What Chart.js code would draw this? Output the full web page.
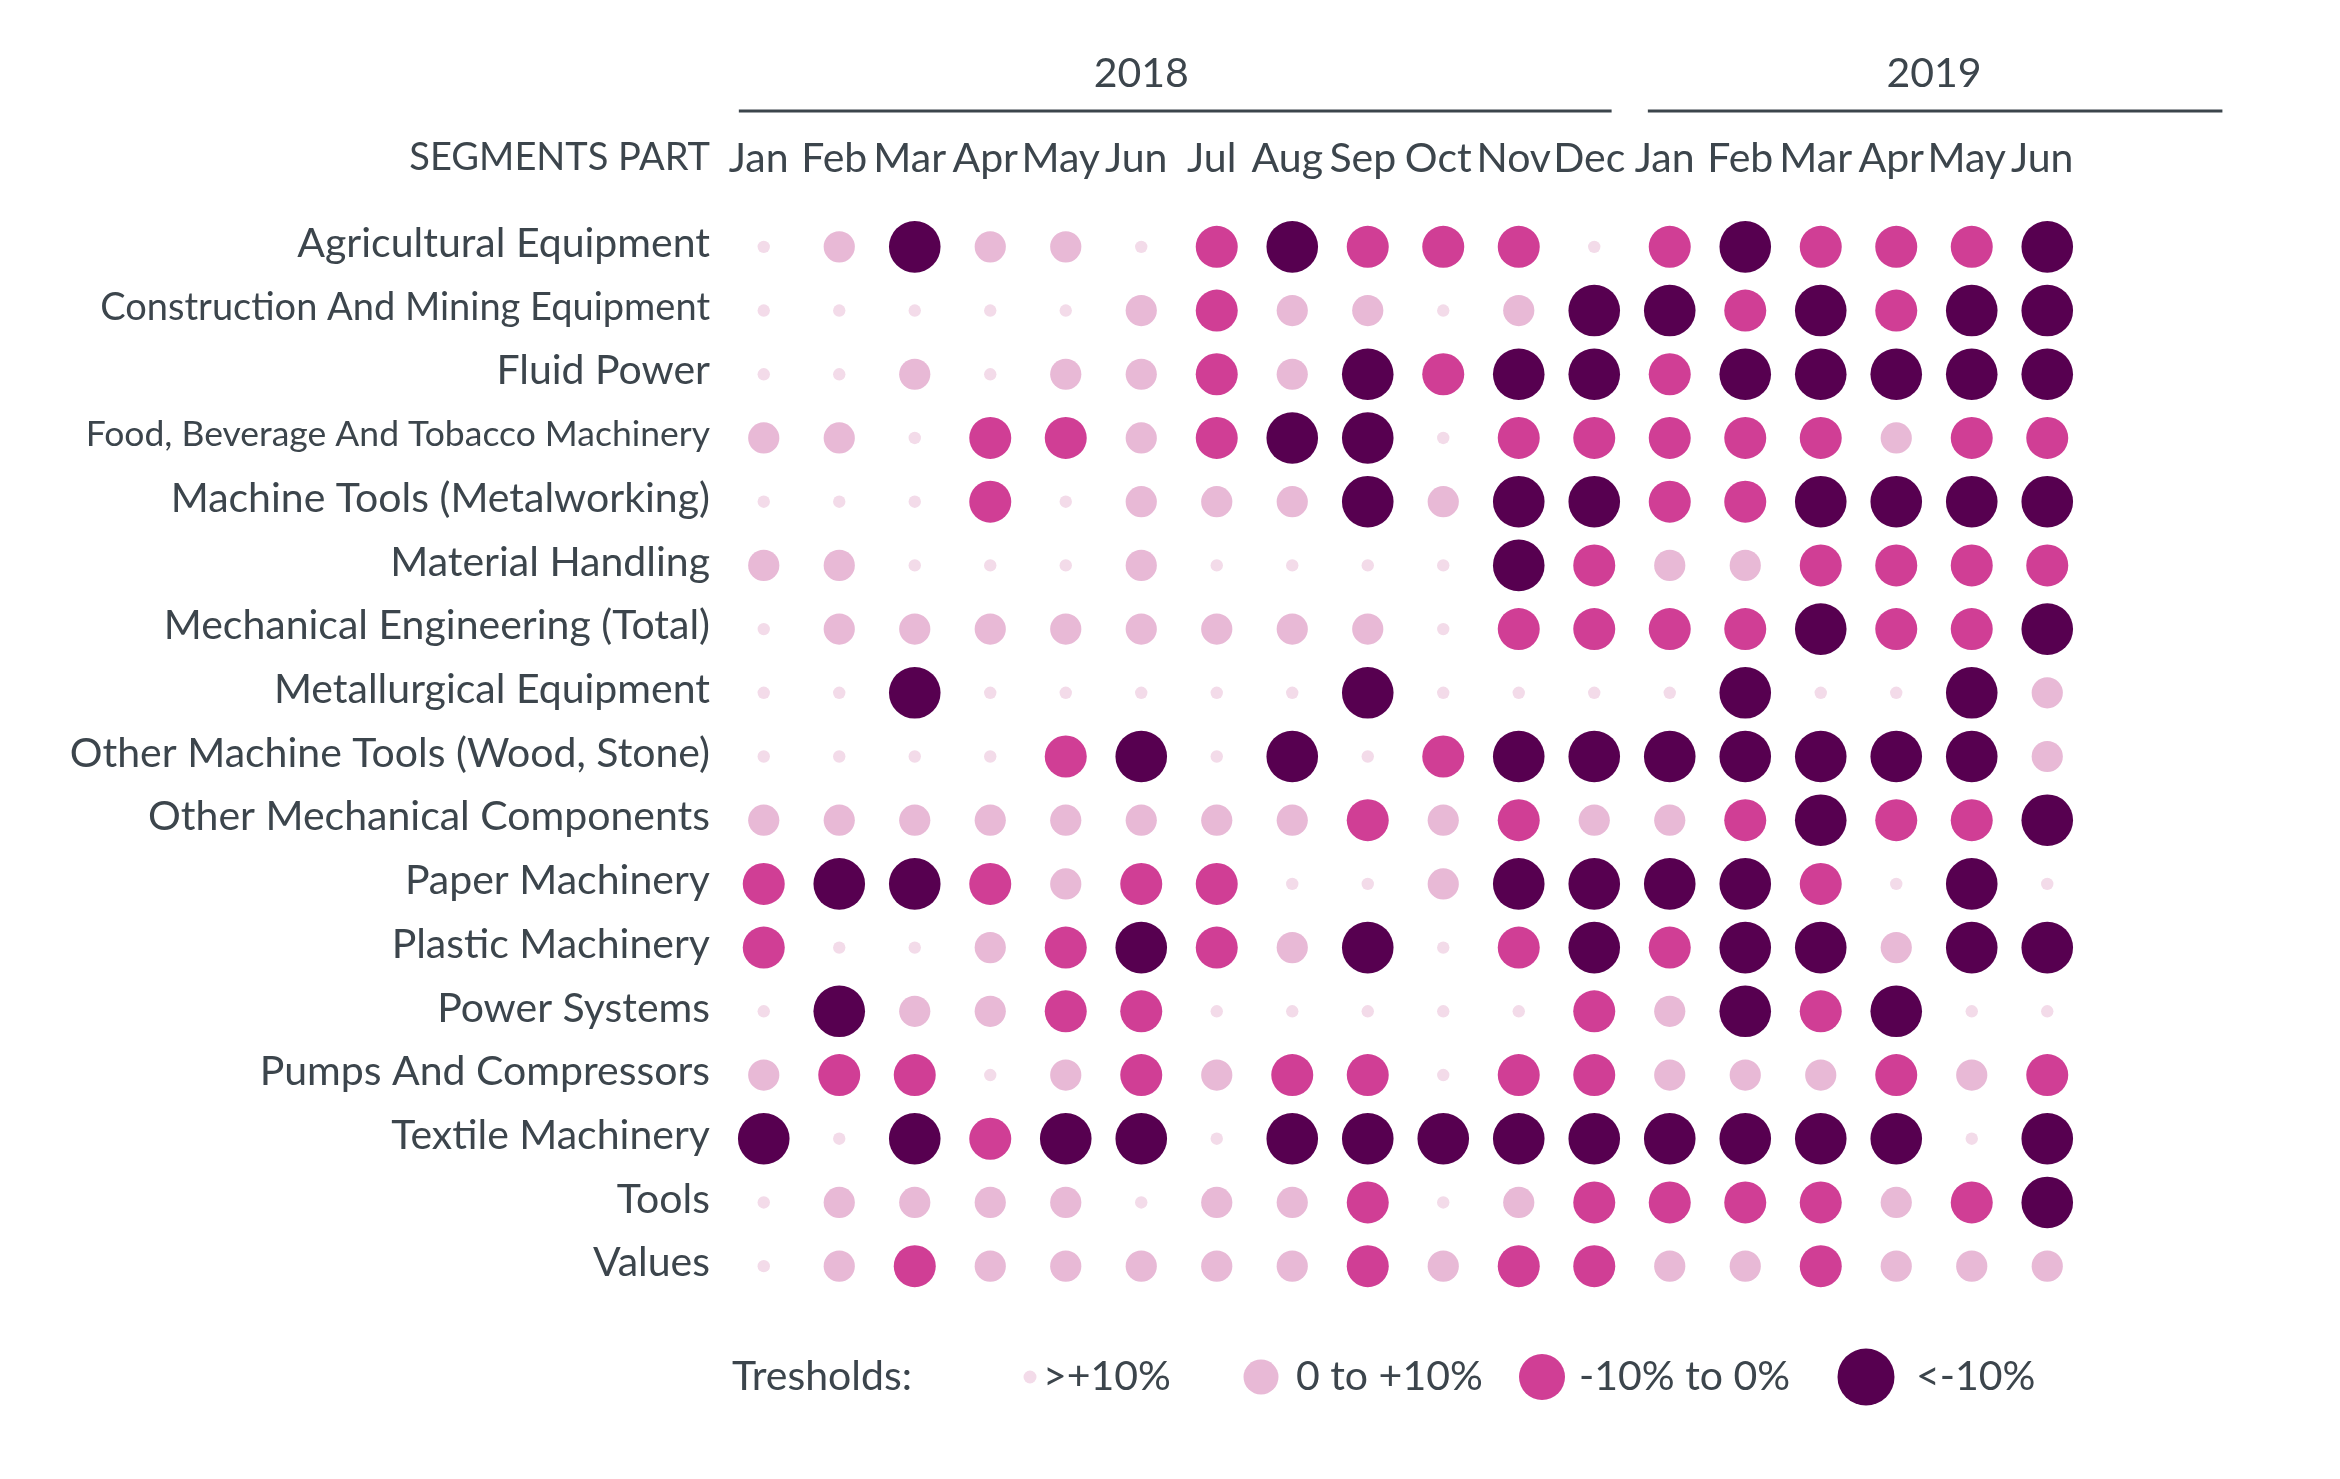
<!DOCTYPE html>
<html>
<head>
<meta charset="utf-8">
<title>Segments part thresholds</title>
<script src="https://cdn.jsdelivr.net/npm/chart.js@4.4.1/dist/chart.umd.min.js"></script>
<style>
  html, body { margin: 0; padding: 0; background: #ffffff; }
  #wrap { width: 2340px; height: 1479px; position: relative; }
</style>
</head>
<body>
<div id="wrap"><canvas id="chart"></canvas></div>
<script>
// ---------- DATA ----------
const periods = ['2018-01','2018-02','2018-03','2018-04','2018-05','2018-06','2018-07','2018-08','2018-09','2018-10','2018-11','2018-12',
                 '2019-01','2019-02','2019-03','2019-04','2019-05','2019-06'];
const monthTicks = ['Jan','Feb','Mar','Apr','May','Jun','Jul','Aug','Sep','Oct','Nov','Dec','Jan','Feb','Mar','Apr','May','Jun'];
const yearLabels = ['2018', '2019'];
const segments = [
  'Agricultural Equipment',
  'Construction And Mining Equipment',
  'Fluid Power',
  'Food, Beverage And Tobacco Machinery',
  'Machine Tools (Metalworking)',
  'Material Handling',
  'Mechanical Engineering (Total)',
  'Metallurgical Equipment',
  'Other Machine Tools (Wood, Stone)',
  'Other Mechanical Components',
  'Paper Machinery',
  'Plastic Machinery',
  'Power Systems',
  'Pumps And Compressors',
  'Textile Machinery',
  'Tools',
  'Values'
];
const thresholds = ['>+10%', '0 to +10%', '-10% to 0%', '<-10%'];

// threshold class per month: 0 = >+10%, 1 = 0 to +10%, 2 = -10% to 0%, 3 = <-10%
const agriculturalEquipment    = [0,1,3,1,1,0,2,3,2,2,2,0,2,3,2,2,2,3];
const constructionMining       = [0,0,0,0,0,1,2,1,1,0,1,3,3,2,3,2,3,3];
const fluidPower               = [0,0,1,0,1,1,2,1,3,2,3,3,2,3,3,3,3,3];
const foodBeverageTobacco      = [1,1,0,2,2,1,2,3,3,0,2,2,2,2,2,1,2,2];
const machineToolsMetal        = [0,0,0,2,0,1,1,1,3,1,3,3,2,2,3,3,3,3];
const materialHandling         = [1,1,0,0,0,1,0,0,0,0,3,2,1,1,2,2,2,2];
const mechanicalEngineering    = [0,1,1,1,1,1,1,1,1,0,2,2,2,2,3,2,2,3];
const metallurgicalEquipment   = [0,0,3,0,0,0,0,0,3,0,0,0,0,3,0,0,3,1];
const otherMachineTools        = [0,0,0,0,2,3,0,3,0,2,3,3,3,3,3,3,3,1];
const otherMechanicalComps     = [1,1,1,1,1,1,1,1,2,1,2,1,1,2,3,2,2,3];
const paperMachinery           = [2,3,3,2,1,2,2,0,0,1,3,3,3,3,2,0,3,0];
const plasticMachinery         = [2,0,0,1,2,3,2,1,3,0,2,3,2,3,3,1,3,3];
const powerSystems             = [0,3,1,1,2,2,0,0,0,0,0,2,1,3,2,3,0,0];
const pumpsCompressors         = [1,2,2,0,1,2,1,2,2,0,2,2,1,1,1,2,1,2];
const textileMachinery         = [3,0,3,2,3,3,0,3,3,3,3,3,3,3,3,3,0,3];
const tools                    = [0,1,1,1,1,0,1,1,2,0,1,2,2,2,2,1,2,3];
const values                   = [0,1,2,1,1,1,1,1,2,1,2,2,1,1,2,1,1,1];

const segmentLevels = [
  agriculturalEquipment, constructionMining, fluidPower, foodBeverageTobacco,
  machineToolsMetal, materialHandling, mechanicalEngineering, metallurgicalEquipment,
  otherMachineTools, otherMechanicalComps, paperMachinery, plasticMachinery,
  powerSystems, pumpsCompressors, textileMachinery, tools, values
];

// ---------- STYLE ----------
const FONT = "Lato, 'Source Sans Pro', 'Open Sans', sans-serif";
const TEXT = '#3c454c';
const COLORS = ['#f3dbe9', '#e8b9d6', '#d03e95', '#570050'];
const RADII = [6.2, 15.6, 21, 25.8];
const LEGEND_RADII = [6.5, 17.5, 23, 28.5];
const BASE_SIZE = 41;
const LABEL_SIZE_OVERRIDES = { 1: 38, 3: 35.5 };   // by row index

Chart.defaults.font.family = FONT;
Chart.defaults.color = TEXT;

// ---------- BUILD DATASETS ----------
const datasets = thresholds.map((t, lvl) => ({
  label: t,
  data: [],
  backgroundColor: COLORS[lvl],
  borderWidth: 0,
  pointRadius: RADII[lvl],
  pointHoverRadius: RADII[lvl]
}));
segmentLevels.forEach((row, s) => {
  row.forEach((lvl, p) => {
    datasets[lvl].data.push({ x: periods[p], y: segments[s] });
  });
});

// ---------- HEADER / LEGEND PLUGIN ----------
const headerLegendPlugin = {
  id: 'headerLegend',
  afterDraw(chart, args, opts) {
    const { ctx, chartArea } = chart;
    const xs = chart.scales.x;
    ctx.save();
    ctx.fillStyle = TEXT;
    ctx.strokeStyle = TEXT;
    ctx.textBaseline = 'middle';

    // year groups
    ctx.font = `${BASE_SIZE}px ${FONT}`;
    opts.years.forEach((g, i) => {
      ctx.textAlign = 'center';
      ctx.fillText(yearLabels[i], xs.getPixelForValue(g.center), chartArea.top + opts.yearTextDy);
      ctx.lineWidth = 3;
      ctx.beginPath();
      const ly = chartArea.top + opts.yearLineDy;
      ctx.moveTo(xs.getPixelForValue(g.from), ly);
      ctx.lineTo(xs.getPixelForValue(g.to), ly);
      ctx.stroke();
    });

    // corner header
    ctx.font = `38px ${FONT}`;
    ctx.textAlign = 'right';
    ctx.fillText('SEGMENTS PART', chartArea.left - 16, chartArea.top + opts.headerDy);

    // thresholds legend
    ctx.font = `${BASE_SIZE}px ${FONT}`;
    const ly = chartArea.bottom + opts.legendDy;
    ctx.textAlign = 'left';
    ctx.fillText('Tresholds:', chartArea.left + opts.legendTitleDx, ly);
    thresholds.forEach((t, lvl) => {
      ctx.fillStyle = COLORS[lvl];
      ctx.beginPath();
      ctx.arc(chartArea.left + opts.dotDx[lvl], ly, LEGEND_RADII[lvl], 0, Math.PI * 2);
      ctx.fill();
      ctx.fillStyle = TEXT;
      ctx.fillText(t, chartArea.left + opts.textDx[lvl], ly);
    });
    ctx.restore();
  }
};

// ---------- CHART ----------
new Chart(document.getElementById('chart'), {
  type: 'scatter',
  data: { datasets },
  plugins: [headerLegendPlugin],
  options: {
    responsive: true,
    maintainAspectRatio: false,
    devicePixelRatio: 1,
    animation: false,
    events: [],
    layout: { padding: { left: 0, right: 255, top: 15, bottom: 181 } },
    scales: {
      x: {
        type: 'category',
        position: 'top',
        labels: periods,
        offset: true,
        grid: { display: false, drawTicks: false },
        border: { display: false },
        ticks: {
          autoSkip: false, maxRotation: 0, minRotation: 0, padding: 32, labelOffset: -5,
          font: { size: BASE_SIZE }, color: TEXT,
          callback: (v, i) => monthTicks[i]
        },
        afterFit: (s) => { s.height = 200; }
      },
      y: {
        type: 'category',
        labels: segments,
        offset: true,
        grid: { display: false, drawTicks: false },
        border: { display: false },
        ticks: {
          autoSkip: false, padding: 16, labelOffset: -3, color: TEXT,
          font: (c) => ({ size: LABEL_SIZE_OVERRIDES[c.index] || BASE_SIZE })
        },
        afterFit: (s) => { s.width = 726; }
      }
    },
    plugins: {
      legend: { display: false },
      tooltip: { enabled: false },
      headerLegend: {
        years: [ { center: 5.0, from: -0.33, to: 11.23 }, { center: 15.5, from: 11.71, to: 19.32 } ],
        yearTextDy: -141,
        yearLineDy: -104,
        headerDy: -57,
        legendDy: 79,
        legendTitleDx: 6,
        dotDx: [304, 535, 816, 1140],
        textDx: [317, 570, 853, 1190]
      }
    }
  }
});
</script>
</body>
</html>
